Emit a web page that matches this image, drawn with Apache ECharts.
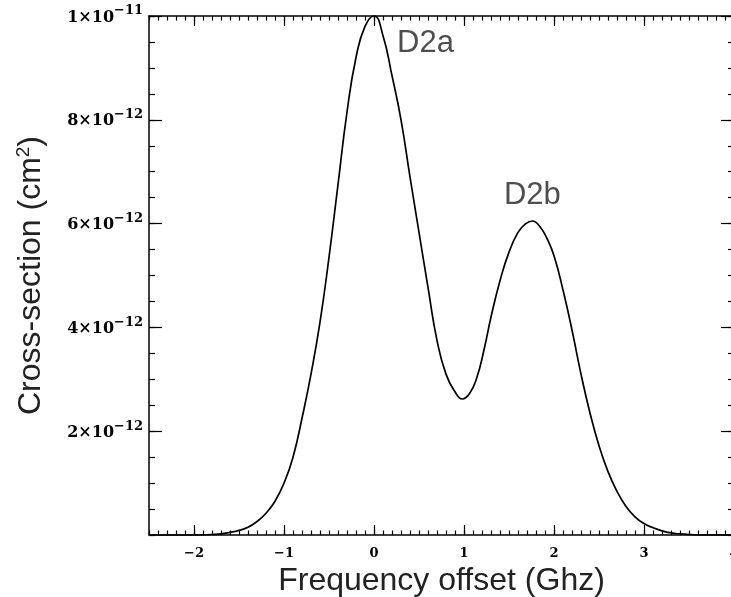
<!DOCTYPE html>
<html><head><meta charset="utf-8">
<script src="https://cdn.jsdelivr.net/npm/echarts@6/dist/echarts.min.js"></script>
<style>html,body{margin:0;padding:0;background:#fff}#c{width:731px;height:597px}</style>
</head><body><div id="c"></div>
<script>
// Frequency offset (GHz) and cross-section (in units of 1e-12 cm^2)
const freqGhz = [-2.5, -2.0, -1.8, -1.7, -1.6, -1.5, -1.4, -1.3, -1.2, -1.1, -1.0, -0.9, -0.8, -0.7, -0.6, -0.5, -0.4, -0.3, -0.2, -0.1,
  0.0, 0.1, 0.2, 0.3, 0.4, 0.5, 0.6, 0.7, 0.8, 0.9, 0.98, 1.06, 1.14, 1.22, 1.3, 1.4, 1.5, 1.6, 1.68, 1.76, 1.84, 1.92,
  2.0, 2.1, 2.2, 2.3, 2.4, 2.5, 2.6, 2.7, 2.8, 2.9, 3.0, 3.1, 3.2, 3.3, 3.4, 3.5, 3.7, 4.0];
const crossSection = [0, 0, 0.01, 0.02, 0.05, 0.09, 0.15, 0.26, 0.42, 0.65, 1.0, 1.5, 2.25, 3.1, 4.1, 5.35, 6.75, 8.15, 9.2, 9.8,
  10.0, 9.62, 8.85, 8.0, 6.9, 5.83, 4.77, 3.75, 3.1, 2.76, 2.62, 2.72, 3.02, 3.55, 4.2, 4.9, 5.45, 5.83, 5.99, 6.05, 5.95, 5.72,
  5.38, 4.72, 3.95, 3.1, 2.35, 1.72, 1.22, 0.84, 0.55, 0.35, 0.22, 0.14, 0.08, 0.04, 0.02, 0.01, 0, 0];
const xTickValues = [-2, -1, 0, 1, 2, 3, 4];
const yTickValues = [2, 4, 6, 8, 10];
const yTickMantissa = ['2', '4', '6', '8', '1'];
const yTickExponent = ['−12', '−12', '−12', '−12', '−11'];
const peakLabels = ['D2a', 'D2b'];
const peakLabelAt = [[0.256, 9.48], [1.444, 6.55]];

const tickFont = 'DejaVu Serif';
const titleFont = 'Liberation Sans';

function xAxisDef(pos, major, labels) {
  const a = {
    type: 'value', gridIndex: 0, position: pos, min: -2.5, max: 4,
    splitLine: { show: false },
    axisLine: { show: !major, onZero: false, lineStyle: { color: '#000', width: 1.5 } },
    axisTick: { show: true, inside: true, length: major ? 10 : 4.5, lineStyle: { color: '#000', width: 1.2 } },
    axisLabel: { show: false }
  };
  if (!major) a.interval = 0.1;
  else a.axisTick.customValues = xTickValues;
  if (labels) {
    a.axisLabel = {
      show: true, customValues: xTickValues, showMaxLabel: true, showMinLabel: true,
      formatter: v => String(v).replace('-', '−'),
      fontFamily: tickFont, fontWeight: 'bold', fontSize: 13, color: '#000', margin: 12
    };
    a.name = 'Frequency offset (Ghz)';
    a.nameLocation = 'middle';
    a.nameGap = 23;
    a.nameTextStyle = { fontFamily: titleFont, fontSize: 32, color: '#222' };
  }
  return a;
}
function yAxisDef(pos, major, labels) {
  const a = {
    type: 'value', gridIndex: 0, position: pos, min: 0, max: 10,
    splitLine: { show: false },
    axisLine: { show: !major, onZero: false, lineStyle: { color: '#000', width: 1.5 } },
    axisTick: { show: true, inside: true, length: major ? 13 : 6, lineStyle: { color: '#000', width: 1.2 } },
    axisLabel: { show: false }
  };
  if (!major) a.interval = 0.5;
  else a.axisTick.customValues = yTickValues;
  if (labels) {
    a.axisLabel = {
      show: true, customValues: yTickValues, showMaxLabel: true,
      formatter: v => {
        const i = yTickValues.indexOf(v);
        return '{m|' + yTickMantissa[i] + '×10}{s|' + yTickExponent[i] + '}';
      },
      margin: 6, padding: [0, 0, 2, 0],
      rich: {
        m: { fontFamily: tickFont, fontWeight: 'bold', fontSize: 16, color: '#000', verticalAlign: 'bottom' },
        s: { fontFamily: tickFont, fontWeight: 'bold', fontSize: 13, color: '#000', verticalAlign: 'bottom', padding: [0, 0, 8, 0] }
      }
    };
    a.name = '{a|Cross-section (cm}{s|2}{a|)}';
    a.nameLocation = 'middle';
    a.nameGap = 102;
    a.nameTextStyle = {
      rich: {
        a: { fontFamily: titleFont, fontSize: 32, color: '#222', verticalAlign: 'bottom' },
        s: { fontFamily: titleFont, fontSize: 19, color: '#222', verticalAlign: 'bottom', padding: [0, 0, 14, 0] }
      }
    };
  }
  return a;
}

const chart = echarts.init(document.getElementById('c'), null, { renderer: 'canvas' });
chart.setOption({
  animation: false,
  backgroundColor: '#fff',
  grid: { left: 149, right: -3, top: 16, bottom: 62, containLabel: false, outerBoundsMode: 'none' },
  xAxis: [xAxisDef('bottom', false, false), xAxisDef('bottom', true, true), xAxisDef('top', false, false), xAxisDef('top', true, false)],
  yAxis: [yAxisDef('left', false, false), yAxisDef('left', true, true), yAxisDef('right', false, false), yAxisDef('right', true, false)],
  series: [
    {
      type: 'line', xAxisIndex: 0, yAxisIndex: 0,
      data: freqGhz.map((x, i) => [x, crossSection[i]]),
      showSymbol: false, smooth: true, clip: false,
      lineStyle: { color: '#000', width: 1.7 }
    },
    {
      type: 'scatter', xAxisIndex: 0, yAxisIndex: 0, silent: true,
      symbolSize: 0,
      data: peakLabelAt.map((p, i) => ({ value: p, name: peakLabels[i] })),
      label: { show: true, formatter: '{b}', position: 'right', distance: 0, fontFamily: titleFont, fontSize: 31, color: '#222' }
    }
  ]
});
</script>
</body></html>
